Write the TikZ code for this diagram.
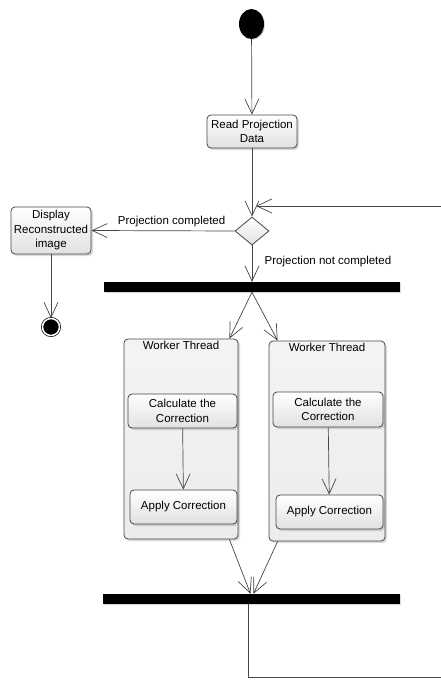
\documentclass[tikz,border=0pt]{standalone}
\usepackage{fontspec}
\setmainfont{Liberation Sans}
\definecolor{LineGray}{RGB}{70,70,70}
\definecolor{BoxGray}{RGB}{225,225,225}
\definecolor{LaneGray}{RGB}{236,236,236}
\usetikzlibrary{arrows.meta, shapes.geometric, positioning, calc, shadows}

\tikzset{
  flow/.style={draw=LineGray, line width=0.7pt, -{Straight Barb[length=15pt, width=14pt, line width=0.7pt]}},
  action/.style={draw=LineGray, line width=0.8pt, rounded corners=4pt, align=center,
                 top color=white, bottom color=BoxGray, inner sep=2pt,
                 drop shadow={opacity=0.3, shadow xshift=2pt, shadow yshift=-2pt}},
  lane/.style={draw=LineGray, line width=0.8pt, rounded corners=4pt,
               top color=LaneGray!60, bottom color=LaneGray,
               drop shadow={opacity=0.3, shadow xshift=2pt, shadow yshift=-2pt}},
  bar/.style={fill=black, inner sep=0pt, minimum height=10pt,
              drop shadow={opacity=0.3, shadow xshift=1pt, shadow yshift=-1pt}},
}

\begin{document}
\begin{tikzpicture}[x=1pt, y=-1pt, font=\fontsize{11.5}{14.5}\selectfont]
    \useasboundingbox (0,0) rectangle (441,680);

    % start, read and decision
    \node[ellipse, fill=black, minimum width=25pt, minimum height=30pt, inner sep=0pt,
          drop shadow={opacity=0.3, shadow xshift=1pt, shadow yshift=-1pt}] (start) at (251.5,24) {};
    \node[action, minimum width=90pt, minimum height=33pt] (read) at (252,131.5) {Read Projection\\Data};
    \node[diamond, draw=LineGray, line width=0.8pt, top color=white, bottom color=BoxGray,
          minimum width=34pt, minimum height=28pt, inner sep=0pt, aspect=1.2] (dec) at (252,231) {};

    % display branch
    \node[action, minimum width=80pt, minimum height=47pt] (display) at (51,230.5) {Display\\Reconstructed\\image};
    \node[circle, fill=black, draw=black, double=white, double distance=1.5pt, line width=0.7pt,
          minimum size=17pt, inner sep=0pt] (stop) at (51,327) {};

    % fork and join bars
    \node[bar, minimum width=296pt] (fork) at (252,287) {};
    \node[bar, minimum width=297pt] (join) at (251.5,599) {};

    % worker threads
    \node[lane, minimum width=114pt, minimum height=200pt,
          label={[anchor=north, inner sep=2pt]north:Worker Thread}] (lane1) at (181,439) {};
    \node[lane, minimum width=116pt, minimum height=200pt,
          label={[anchor=north, inner sep=2pt]north:Worker Thread}] (lane2) at (327,441) {};
    \node[action, minimum width=109pt, minimum height=34pt] (calc1) at (182.5,411) {Calculate the\\Correction};
    \node[action, minimum width=107pt, minimum height=34pt] (apply1) at (183.5,507) {Apply Correction};
    \node[action, minimum width=110pt, minimum height=35pt] (calc2) at (328,409.5) {Calculate the\\Correction};
    \node[action, minimum width=107pt, minimum height=34pt] (apply2) at (329.5,512) {Apply Correction};

    % loop coordinates
    \coordinate (loopin) at (441,206);
    \coordinate (looptip) at (256,206);
    \coordinate (loopout) at (441,677);

    % connectors
    \draw[flow] (start) -- (read);
    \draw[flow] (read) -- (dec);
    \draw[flow] (loopin) -- (looptip);
    \draw[flow] (dec.west) -- (display.east)
      node[above, pos=0.44, inner sep=4pt] {Projection completed};
    \draw[flow] (display) -- (stop);
    \draw[flow] (dec.south) -- (fork.north)
      node[right, pos=0.45, xshift=9pt] {Projection not completed};
    \draw[flow] (fork.south) -- ([xshift=-9pt]lane1.north east);
    \draw[flow] (fork.south) -- ([xshift=9pt]lane2.north west);
    \draw[flow] (calc1) -- (apply1);
    \draw[flow] (calc2) -- (apply2);
    \draw[flow] ([xshift=-9pt]lane1.south east) -- ([xshift=-1pt]join.north);
    \draw[flow] ([xshift=9pt]lane2.south west) -- ([xshift=2pt]join.north);
    \draw[draw=LineGray, line width=0.7pt] ([xshift=-3pt]join.south) |- (loopout);
\end{tikzpicture}
\end{document}
